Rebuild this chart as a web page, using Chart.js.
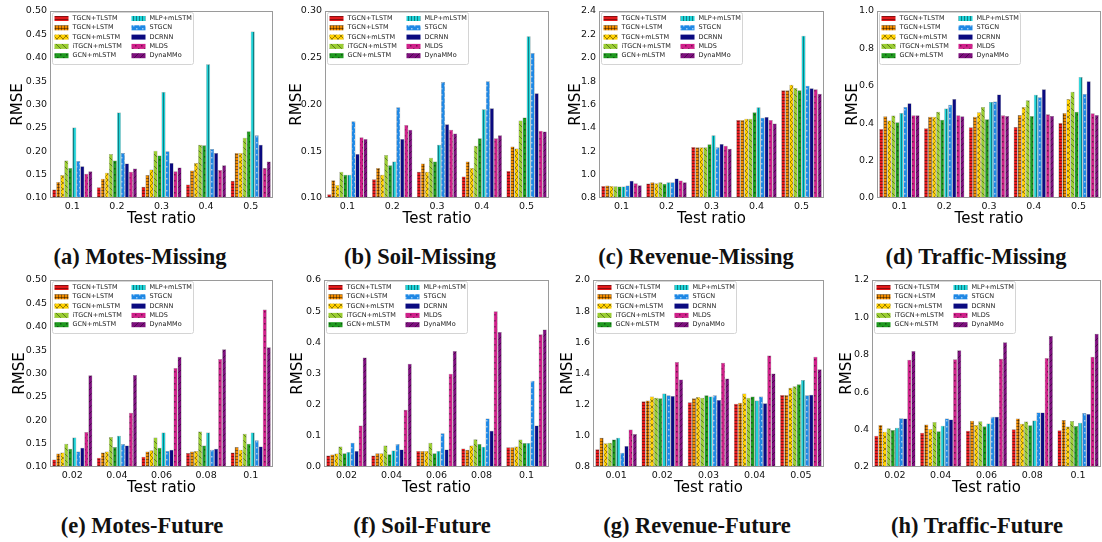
<!DOCTYPE html>
<html>
<head>
<meta charset="UTF-8">
<title>RMSE vs Test ratio</title>
<script src="https://cdn.jsdelivr.net/npm/chart.js@4.4.0/dist/chart.umd.min.js"></script>
<style>
    body { margin: 0; background: #fff; }
    #wrap { position: relative; width: 1102px; height: 542px; overflow: hidden; background: #fff; }
    #wrap canvas { position: absolute; }
    .cap {
        position: absolute;
        font-family: 'Liberation Serif', 'DejaVu Serif', serif;
        font-weight: bold;
        font-size: 22.5px;
        color: #111;
        white-space: nowrap;
        transform: translate(-50%, -50%);
    }
</style>
</head>
<body>
<div id="wrap"></div>

<script>
    // bar order inside every group
    const methods = ['TGCN+TLSTM', 'TGCN+LSTM', 'TGCN+mLSTM', 'iTGCN+mLSTM', 'GCN+mLSTM',
                     'MLP+mLSTM', 'STGCN', 'DCRNN', 'MLDS', 'DynaMMo'];

    // x categories
    const missingRatios = ['0.1', '0.2', '0.3', '0.4', '0.5'];
    const futureRatios = ['0.02', '0.04', '0.06', '0.08', '0.1'];
    const revenueFutureRatios = ['0.01', '0.02', '0.03', '0.04', '0.05'];

    // y tick labels
    const motesTicks = ['0.10', '0.15', '0.20', '0.25', '0.30', '0.35', '0.40', '0.45', '0.50'];
    const soilMissingTicks = ['0.10', '0.15', '0.20', '0.25', '0.30'];
    const revenueMissingTicks = ['0.8', '1.0', '1.2', '1.4', '1.6', '1.8', '2.0', '2.2', '2.4'];
    const trafficMissingTicks = ['0.0', '0.2', '0.4', '0.6', '0.8', '1.0'];
    const soilFutureTicks = ['0.0', '0.1', '0.2', '0.3', '0.4', '0.5', '0.6'];
    const revenueFutureTicks = ['0.8', '1.0', '1.2', '1.4', '1.6', '1.8', '2.0'];
    const trafficFutureTicks = ['0.2', '0.4', '0.6', '0.8', '1.0', '1.2'];

    // RMSE, one row per method (same order as methods), one value per ratio
    const motesMissing = [
        [0.118, 0.123, 0.124, 0.129, 0.137],
        [0.134, 0.141, 0.149, 0.159, 0.196],
        [0.149, 0.154, 0.161, 0.175, 0.196],
        [0.180, 0.194, 0.201, 0.214, 0.229],
        [0.164, 0.180, 0.191, 0.213, 0.243],
        [0.251, 0.283, 0.327, 0.386, 0.456],
        [0.179, 0.196, 0.200, 0.205, 0.234],
        [0.168, 0.174, 0.175, 0.196, 0.214],
        [0.152, 0.156, 0.157, 0.160, 0.164],
        [0.157, 0.163, 0.165, 0.170, 0.178]
    ];
    const soilMissing = [
        [0.104, 0.120, 0.128, 0.123, 0.129],
        [0.119, 0.132, 0.137, 0.139, 0.155],
        [0.114, 0.125, 0.128, 0.132, 0.153],
        [0.128, 0.146, 0.143, 0.156, 0.183],
        [0.125, 0.135, 0.139, 0.164, 0.186],
        [0.125, 0.139, 0.157, 0.195, 0.273],
        [0.182, 0.197, 0.224, 0.225, 0.255],
        [0.147, 0.163, 0.179, 0.196, 0.212],
        [0.165, 0.178, 0.173, 0.164, 0.172],
        [0.163, 0.173, 0.169, 0.167, 0.171]
    ];
    const revenueMissing = [
        [0.903, 0.924, 1.237, 1.467, 1.722],
        [0.906, 0.935, 1.234, 1.467, 1.722],
        [0.903, 0.926, 1.234, 1.478, 1.768],
        [0.900, 0.935, 1.234, 1.478, 1.742],
        [0.898, 0.921, 1.260, 1.533, 1.722],
        [0.898, 0.935, 1.337, 1.576, 2.188],
        [0.906, 0.935, 1.234, 1.487, 1.760],
        [0.947, 0.967, 1.263, 1.493, 1.740],
        [0.926, 0.949, 1.248, 1.467, 1.731],
        [0.909, 0.935, 1.222, 1.438, 1.691]
    ];
    const trafficMissing = [
        [0.369, 0.373, 0.378, 0.380, 0.401],
        [0.437, 0.435, 0.434, 0.444, 0.455],
        [0.414, 0.434, 0.459, 0.486, 0.530],
        [0.441, 0.461, 0.487, 0.523, 0.568],
        [0.405, 0.418, 0.421, 0.439, 0.461],
        [0.455, 0.478, 0.514, 0.552, 0.647],
        [0.487, 0.498, 0.516, 0.539, 0.556],
        [0.507, 0.530, 0.554, 0.582, 0.624],
        [0.443, 0.443, 0.443, 0.448, 0.453],
        [0.443, 0.437, 0.439, 0.439, 0.444]
    ];
    const motesFuture = [
        [0.116, 0.120, 0.122, 0.130, 0.131],
        [0.129, 0.131, 0.133, 0.133, 0.143],
        [0.131, 0.133, 0.136, 0.134, 0.137],
        [0.150, 0.164, 0.163, 0.176, 0.171],
        [0.139, 0.143, 0.141, 0.146, 0.150],
        [0.163, 0.167, 0.174, 0.174, 0.174],
        [0.133, 0.149, 0.134, 0.137, 0.157],
        [0.141, 0.146, 0.137, 0.139, 0.144],
        [0.175, 0.216, 0.312, 0.331, 0.437],
        [0.296, 0.297, 0.336, 0.352, 0.356]
    ];
    const soilFuture = [
        [0.037, 0.037, 0.051, 0.059, 0.063],
        [0.040, 0.044, 0.051, 0.055, 0.063],
        [0.043, 0.044, 0.051, 0.069, 0.066],
        [0.066, 0.069, 0.078, 0.089, 0.088],
        [0.044, 0.041, 0.044, 0.074, 0.077],
        [0.048, 0.053, 0.051, 0.065, 0.077],
        [0.078, 0.074, 0.108, 0.156, 0.277],
        [0.051, 0.056, 0.056, 0.116, 0.133],
        [0.133, 0.184, 0.299, 0.500, 0.426],
        [0.351, 0.331, 0.372, 0.433, 0.441]
    ];
    const revenueFuture = [
        [0.914, 1.222, 1.215, 1.206, 1.262],
        [0.987, 1.226, 1.241, 1.213, 1.262],
        [0.953, 1.252, 1.249, 1.271, 1.308],
        [0.955, 1.245, 1.245, 1.245, 1.318],
        [0.976, 1.241, 1.260, 1.252, 1.331],
        [0.987, 1.271, 1.252, 1.226, 1.359],
        [0.892, 1.260, 1.260, 1.252, 1.260],
        [0.935, 1.256, 1.230, 1.209, 1.264],
        [1.041, 1.473, 1.469, 1.516, 1.508],
        [1.011, 1.361, 1.368, 1.400, 1.428]
    ];
    const trafficFuture = [
        [0.367, 0.383, 0.394, 0.402, 0.396],
        [0.424, 0.427, 0.447, 0.459, 0.452],
        [0.389, 0.403, 0.425, 0.431, 0.417],
        [0.407, 0.441, 0.444, 0.443, 0.446],
        [0.398, 0.391, 0.418, 0.423, 0.419],
        [0.410, 0.421, 0.432, 0.448, 0.437],
        [0.461, 0.459, 0.469, 0.491, 0.489],
        [0.459, 0.454, 0.469, 0.491, 0.484],
        [0.773, 0.776, 0.779, 0.783, 0.789],
        [0.820, 0.824, 0.867, 0.901, 0.912]
    ];

    // colour + hatch per method
    const barColors = ['#e41a1c', '#f28c00', '#ffd000', '#9acd32', '#1f9a1f',
                       '#1fd3d8', '#1e88e5', '#0a0a80', '#d0208a', '#7d0f7d'];
    const barHatches = ['-', '+', 'x', '\\', '.', '|', 'o', '', '.', '/'];

    function hatchFill(color, kind) {
        const c = document.createElement('canvas');
        c.width = 6; c.height = 6;
        const g = c.getContext('2d');
        g.fillStyle = color;
        g.fillRect(0, 0, 6, 6);
        g.strokeStyle = 'rgba(0,0,0,0.4)';
        g.fillStyle = 'rgba(0,0,0,0.45)';
        g.lineWidth = 1;
        g.beginPath();
        if (kind === '-' || kind === '+') {
            g.moveTo(0, 1.5); g.lineTo(6, 1.5);
            g.moveTo(0, 4.5); g.lineTo(6, 4.5);
        }
        if (kind === '|' || kind === '+') {
            g.moveTo(1.5, 0); g.lineTo(1.5, 6);
            g.moveTo(4.5, 0); g.lineTo(4.5, 6);
        }
        if (kind === 'x' || kind === '\\') {
            g.moveTo(-1, -1); g.lineTo(7, 7);
            g.moveTo(-1, 5); g.lineTo(1, 7);
            g.moveTo(5, -1); g.lineTo(7, 1);
        }
        if (kind === 'x' || kind === '/') {
            g.moveTo(-1, 7); g.lineTo(7, -1);
            g.moveTo(-1, 1); g.lineTo(1, -1);
            g.moveTo(5, 7); g.lineTo(7, 5);
        }
        g.stroke();
        if (kind === '.') {
            g.fillRect(0, 0, 1.5, 1.5);
            g.fillRect(3, 3, 1.5, 1.5);
        }
        if (kind === 'o') {
            g.fillStyle = 'rgba(255,255,255,0.55)';
            g.fillRect(1, 1, 1.5, 1.5);
            g.fillRect(4, 4, 1.5, 1.5);
        }
        return g.createPattern(c, 'repeat');
    }

    // frame round the plot area
    const frameBox = {
        id: 'frameBox',
        afterDraw(chart) {
            const a = chart.chartArea;
            const ctx = chart.ctx;
            ctx.save();
            ctx.strokeStyle = '#9a9a9a';
            ctx.lineWidth = 1;
            ctx.strokeRect(a.left + 0.5, a.top + 0.5, a.right - a.left - 1, a.bottom - a.top - 1);
            ctx.restore();
        }
    };

    // two-column legend in the upper left corner
    const boxLegend = {
        id: 'boxLegend',
        afterDatasetsDraw(chart) {
            const ctx = chart.ctx;
            const x0 = chart.chartArea.left + 2.5, y0 = chart.chartArea.top + 1.5;
            ctx.save();
            ctx.fillStyle = 'rgba(255,255,255,0.85)';
            ctx.strokeStyle = '#d4d4d4';
            ctx.lineWidth = 1;
            ctx.beginPath();
            ctx.roundRect(x0, y0, 141, 52, 2);
            ctx.fill();
            ctx.stroke();
            ctx.font = '6.5px "DejaVu Sans"';
            ctx.textBaseline = 'middle';
            chart.data.datasets.forEach((ds, i) => {
                const sx = x0 + 2 + Math.floor(i / 5) * 77;
                const sy = y0 + 6 + (i % 5) * 9.3;
                ctx.fillStyle = ds.backgroundColor;
                ctx.fillRect(sx, sy - 2.5, 14, 5);
                ctx.fillStyle = '#222';
                ctx.fillText(ds.label, sx + 18, sy);
            });
            ctx.restore();
        }
    };

    const panels = [
        { data: motesMissing,   cats: missingRatios, ticks: motesTicks,          x: 0,   top: 0,   axisX: 50,  right: 273,  rmseX: 18, capX: 140, cap: '(a) Motes-Missing' },
        { data: soilMissing,    cats: missingRatios, ticks: soilMissingTicks,    x: 275, top: 0,   axisX: 325, right: 549,  rmseX: 22, capX: 420, cap: '(b) Soil-Missing' },
        { data: revenueMissing, cats: missingRatios, ticks: revenueMissingTicks, x: 550, top: 0,   axisX: 599, right: 824,  rmseX: 26, capX: 696, cap: '(c) Revenue-Missing' },
        { data: trafficMissing, cats: missingRatios, ticks: trafficMissingTicks, x: 825, top: 0,   axisX: 877, right: 1101, rmseX: 28, capX: 976, cap: '(d) Traffic-Missing' },
        { data: motesFuture,    cats: futureRatios,  ticks: motesTicks,          x: 0,   top: 269, axisX: 50,  right: 273,  rmseX: 20, capX: 142, cap: '(e) Motes-Future' },
        { data: soilFuture,     cats: futureRatios,  ticks: soilFutureTicks,     x: 275, top: 269, axisX: 324, right: 549,  rmseX: 23, capX: 422, cap: '(f) Soil-Future' },
        { data: revenueFuture,  cats: revenueFutureRatios, ticks: revenueFutureTicks, x: 550, top: 269, axisX: 593, right: 824, rmseX: 18, capX: 697, cap: '(g) Revenue-Future' },
        { data: trafficFuture,  cats: futureRatios,  ticks: trafficFutureTicks,  x: 825, top: 269, axisX: 872, right: 1101, rmseX: 22, capX: 977, cap: '(h) Traffic-Future' }
    ];

    const wrap = document.getElementById('wrap');
    const H = 232;          // canvas height
    const plotTop = 11;     // inside canvas
    const plotBottom = 198;

    panels.forEach(p => {
        const cv = document.createElement('canvas');
        const w = p.right - p.x + 1;
        cv.width = w; cv.height = H;
        cv.style.left = p.x + 'px';
        cv.style.top = p.top + 'px';
        cv.style.width = w + 'px';
        cv.style.height = H + 'px';
        wrap.appendChild(cv);

        const cap = document.createElement('div');
        cap.className = 'cap';
        cap.textContent = p.cap;
        cap.style.left = p.capX + 'px';
        cap.style.top = (p.top + 257) + 'px';
        wrap.appendChild(cap);

        const tickVals = p.ticks.map(Number);

        new Chart(cv, {
            type: 'bar',
            data: {
                labels: p.cats,
                datasets: methods.map((m, i) => ({
                    label: m,
                    data: p.data[i],
                    backgroundColor: hatchFill(barColors[i], barHatches[i]),
                    borderColor: 'rgba(40,40,40,0.55)',
                    borderWidth: 0.5,
                    categoryPercentage: 0.9,
                    barPercentage: 1.0
                }))
            },
            options: {
                responsive: false,
                animation: false,
                devicePixelRatio: 1,
                layout: { padding: { top: plotTop, right: 1, bottom: 0, left: 0 } },
                plugins: { legend: { display: false }, tooltip: { enabled: false } },
                scales: {
                    x: {
                        grid: { display: false, drawTicks: false },
                        border: { display: false },
                        ticks: { color: '#111', padding: 3, font: { family: 'DejaVu Sans', size: 9.5 }, maxRotation: 0 },
                        title: { display: true, text: 'Test ratio', color: '#000',
                                 font: { family: 'DejaVu Sans', size: 15 }, padding: { top: 0, bottom: 4 } },
                        afterFit: s => { s.height = H - plotBottom; }
                    },
                    y: {
                        min: tickVals[0],
                        max: tickVals[tickVals.length - 1],
                        grid: { display: false, drawTicks: false },
                        border: { display: false },
                        afterBuildTicks: s => { s.ticks = tickVals.map(v => ({ value: v })); },
                        ticks: {
                            color: '#111', padding: 3,
                            font: { family: 'DejaVu Sans', size: 9.5 },
                            callback: (v, idx) => p.ticks[idx]
                        },
                        title: { display: true, text: 'RMSE', color: '#000',
                                 font: { family: 'DejaVu Sans', size: 15 }, padding: { top: p.rmseX - 9, bottom: 0 } },
                        afterFit: s => { s.width = p.axisX - p.x; }
                    }
                }
            },
            plugins: [boxLegend, frameBox]
        });
    });
</script>
</body>
</html>
